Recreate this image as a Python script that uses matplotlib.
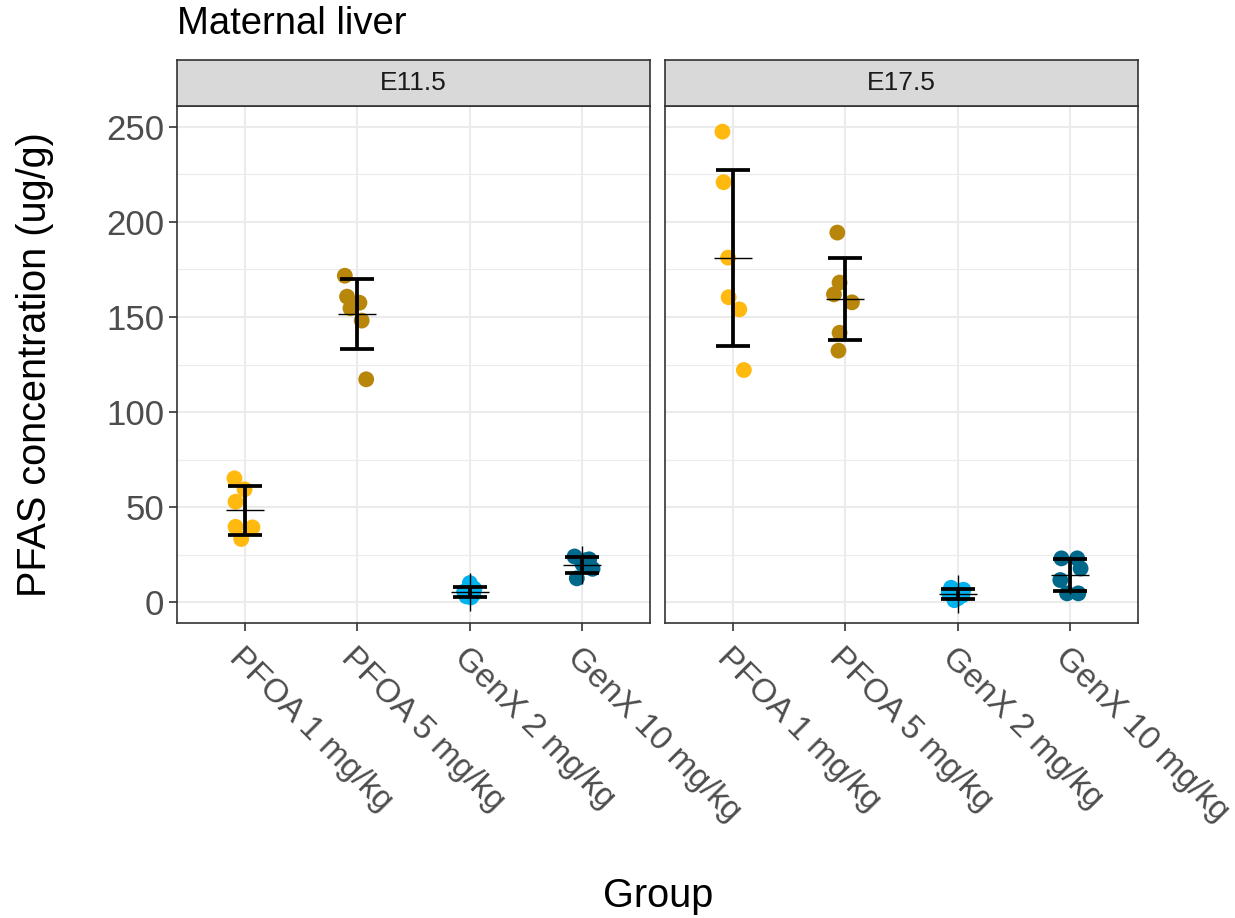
import matplotlib.pyplot as plt
import numpy as np

plt.rcParams['font.family'] = ['Liberation Sans', 'DejaVu Sans']

# Data
groups = ['PFOA 1 mg/kg', 'PFOA 5 mg/kg', 'GenX 2 mg/kg', 'GenX 10 mg/kg']
colors = ['#FFB90F', '#B8860B', '#00B2EE', '#00688B']
panels = ['E11.5', 'E17.5']

e11_values = [
    [65.1, 59.3, 52.8, 39.6, 39.3, 33.2],
    [171.7, 160.7, 157.5, 154.6, 148.1, 117.2],
    [10.0, 7.0, 5.5, 4.0, 3.0, 2.5],
    [24.0, 22.5, 22.0, 20.0, 17.5, 12.5],
]
e17_values = [
    [247.5, 220.9, 181.2, 160.4, 154.0, 122.1],
    [194.4, 168.1, 161.9, 157.7, 141.7, 132.3],
    [7.5, 6.5, 5.0, 3.5, 2.0, 1.0],
    [23.0, 23.0, 17.7, 11.6, 4.6, 4.6],
]
# horizontal jitter of the points (in category units)
e11_jitter = [
    [-0.09, 0.0, -0.08, -0.08, 0.07, -0.03],
    [-0.11, -0.09, 0.02, -0.06, 0.04, 0.08],
    [0.0, 0.04, -0.05, 0.03, -0.03, 0.01],
    [-0.07, 0.06, 0.03, 0.0, 0.09, -0.05],
]
e17_jitter = [
    [-0.09, -0.08, -0.04, -0.035, 0.06, 0.1],
    [-0.07, -0.05, -0.1, 0.06, -0.05, -0.06],
    [-0.06, 0.05, -0.08, 0.04, 0.0, -0.03],
    [-0.08, 0.06, 0.09, -0.09, -0.03, 0.07],
]

W, H = 1235, 918
fig = plt.figure(figsize=(W / 100, H / 100), dpi=100)

left = [177 / W, 665 / W]
pw = 473 / W
pb = 1 - 623 / H
ph = (623 - 106) / H
sh = 46 / H

for i, (name, vals, jit) in enumerate(zip(panels, [e11_values, e17_values],
                                          [e11_jitter, e17_jitter])):
    ax = fig.add_axes([left[i], pb, pw, ph])
    x = np.arange(1, 5)
    for k in range(4):
        v = np.array(vals[k])
        ax.scatter(x[k] + np.array(jit[k]), v, s=130, color=colors[k],
                   edgecolors='none', zorder=3)
        m = v.mean()
        sd = v.std(ddof=1)
        ax.errorbar(x[k], m, yerr=sd, color='black', lw=2.7, capsize=12.5,
                    capthick=2.7, zorder=4, fmt='none')
        ax.plot(x[k], m, marker='+', ms=28, mew=1.0, color='black', zorder=5)

    ax.set_xlim(0.4, 4.6)
    ax.set_ylim(-11, 261)
    ax.set_xticks(x)
    ax.set_xticklabels(groups, rotation=-45, ha='left', va='top',
                       rotation_mode='anchor', fontsize=24, color='#4D4D4D')
    ax.set_yticks([0, 50, 100, 150, 200, 250])
    ax.set_yticks([25, 75, 125, 175, 225], minor=True)
    if i == 0:
        ax.set_yticklabels(['0', '50', '100', '150', '200', '250'],
                           fontsize=25, color='#4D4D4D')
    else:
        ax.set_yticklabels([])
    ax.tick_params(axis='both', which='major', length=6, width=1.2,
                   color='#333333', pad=3)
    ax.tick_params(axis='x', which='major', pad=8)
    ax.tick_params(axis='y', which='minor', length=0)
    if i == 1:
        ax.tick_params(axis='y', which='major', length=0)
    ax.grid(True, which='major', color='#EBEBEB', lw=1.5, zorder=0)
    ax.grid(True, which='minor', axis='y', color='#EBEBEB', lw=0.8, zorder=0)
    ax.set_axisbelow(True)
    for sp in ax.spines.values():
        sp.set_color('#333333')
        sp.set_linewidth(1.2)

    # strip
    sax = fig.add_axes([left[i], pb + ph, pw, sh])
    sax.set_facecolor('#D9D9D9')
    sax.set_xticks([])
    sax.set_yticks([])
    for sp in sax.spines.values():
        sp.set_color('#333333')
        sp.set_linewidth(1.2)
    sax.text(0.5, 0.5, name, ha='center', va='center', fontsize=19,
             color='#1A1A1A', transform=sax.transAxes)

fig.text(177 / W, 1 - 24 / H, 'Maternal liver', fontsize=27.5, ha='left',
         va='center')
fig.text(35 / W, 1 - 365 / H, 'PFAS concentration (ug/g)', fontsize=28.5,
         rotation=90, ha='center', va='center')
fig.text(658 / W, 1 - 896 / H, 'Group', fontsize=28.5, ha='center',
         va='center')

fig.savefig('out.png', dpi=100)
